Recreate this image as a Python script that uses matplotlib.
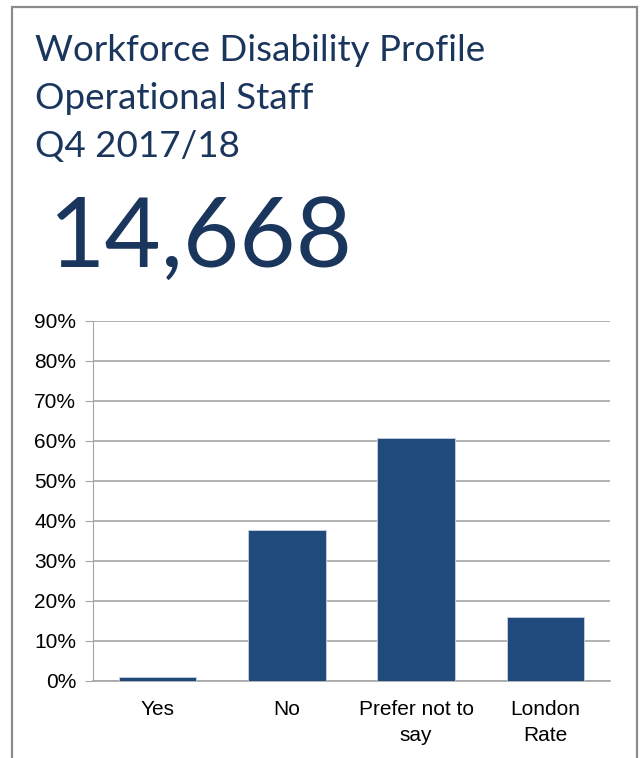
import matplotlib.pyplot as plt
from matplotlib.patches import Rectangle
from matplotlib.ticker import PercentFormatter

categories = ["Yes", "No", "Prefer not to\nsay", "London\nRate"]
shares = [1.1, 37.8, 60.7, 15.9]
title_lines = ["Workforce Disability Profile", "Operational Staff", "Q4 2017/18"]
headcount = "14,668"

navy = "#1b365d"
bar_blue = "#214a7c"
W, H = 640, 758

fig = plt.figure(figsize=(W / 100, H / 100), dpi=100)

# panel frame
fig.patches.append(Rectangle((12 / W, -0.01), (637 - 12) / W, (H - 7) / H + 0.01,
                             transform=fig.transFigure, fill=False,
                             edgecolor="#8c8c8c", linewidth=1.6))

for i, line in enumerate(title_lines):
    fig.text(35 / W, 1 - (61 + 48 * i) / H, line, family="Lato", fontsize=26.5,
             color=navy, va="baseline", ha="left")
fig.text(48 / W, 1 - 267 / H, headcount, family="Lato", fontsize=70,
         color=navy, va="baseline", ha="left")

ax = fig.add_axes([93 / W, (H - 681) / H, (610 - 93) / W, 360 / H])
ax.bar(range(len(categories)), shares, width=0.6, color=bar_blue,
       edgecolor="#c8d2e0", linewidth=0.6, zorder=3)
ax.set_xlim(-0.5, len(categories) - 0.5)
ax.set_ylim(0, 90)
ax.set_yticks(range(0, 91, 10))
ax.yaxis.set_major_formatter(PercentFormatter(decimals=0))
ax.set_xticks(range(len(categories)))
ax.set_xticklabels(categories, family="Liberation Sans", fontsize=15,
                   linespacing=1.45)
for lab in ax.get_yticklabels():
    lab.set_family("Liberation Sans")
    lab.set_fontsize(15)
ax.grid(axis="y", color="#a6a6a6", linewidth=1.2, zorder=0)
ax.tick_params(axis="y", length=6, color="#a6a6a6", pad=6)
ax.tick_params(axis="x", length=0, pad=14)
for side in ("top", "right"):
    ax.spines[side].set_visible(False)
ax.spines["left"].set_color("#a6a6a6")
ax.spines["bottom"].set_color("#a6a6a6")
ax.spines["bottom"].set_linewidth(1.2)

fig.savefig("out.png", dpi=100)
